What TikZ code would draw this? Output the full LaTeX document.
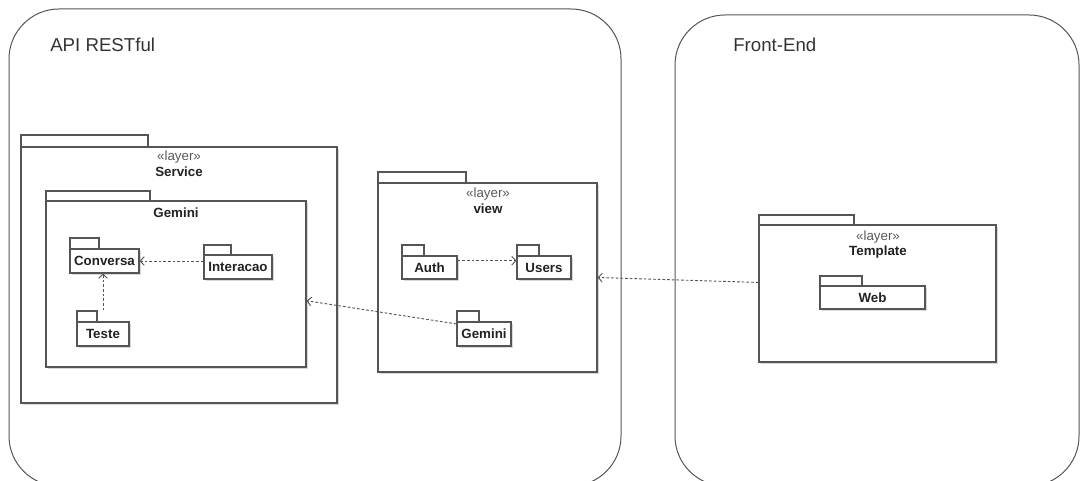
\documentclass[tikz,border=0pt]{standalone}
\usepackage{fontspec}
\setmainfont{Liberation Sans}
\usetikzlibrary{arrows.meta,fit,calc,shadows}
\definecolor{edge}{HTML}{555555}
\definecolor{ink}{HTML}{222222}
\begin{document}
\begin{tikzpicture}[x=0.75pt,y=-0.75pt,
  frame/.style={draw=edge, line width=0.75pt, rounded corners=37.5pt},
  pkgbody/.style={draw=edge, line width=0.9pt, fill=white, inner sep=0pt,
    drop shadow={shadow xshift=1.5pt, shadow yshift=-1.5pt, opacity=0.15, fill=black}},
  pkgtab/.style={draw=edge, line width=0.9pt, fill=white, inner sep=0pt},
  title/.style={font=\fontsize{14}{16}\selectfont, text=black!80, inner sep=0pt, anchor=west},
  stereo/.style={font=\fontsize{10}{12}\selectfont, text=black!65, inner sep=0pt},
  pname/.style={font=\fontsize{10}{12}\selectfont\bfseries, text=ink, inner sep=0pt},
  dep/.style={draw=edge, line width=0.7pt, dash pattern=on 2pt off 1.5pt,
    -{Straight Barb[length=3pt,width=6.5pt]}}
]
\useasboundingbox (0,0) rectangle (1080,481);

% outer regions, open past the lower edge
\begin{scope}
  \clip (0,0) rectangle (1080,481);
  \draw[frame] (9,9) rectangle (621,486);
  \draw[frame] (675,15) rectangle (1079,486);
\end{scope}
\node[title] (apiT) at (50,45) {API RESTful};
\node[title] (feT) at (733,45) {Front-End};

% ---- Service layer ----
\node[pkgbody, fit={(21,147) (337,403)}] (svc) {};
\node[pkgtab, fit={(21,135) (148,147)}] (svcTab) {};
\node[stereo] (svcS) at (179,157) {«layer»};
\node[pname] (svcN) at (179,172) {Service};

\node[pkgbody, fit={(46,201) (306,367)}] (sgem) {};
\node[pkgtab, fit={(46,191) (150,201)}] (sgemTab) {};
\node[pname] (sgemN) at (176,213) {Gemini};

\node[pkgbody, fit={(70,249) (139,273)}] (conv) {};
\node[pkgtab, fit={(70,238) (99,249)}] (convTab) {};
\node[pname] (convN) at (conv.center) {Conversa};

\node[pkgbody, fit={(204,255) (272,279)}] (inter) {};
\node[pkgtab, fit={(204,245) (231,255)}] (interTab) {};
\node[pname] (interN) at (inter.center) {Interacao};

\node[pkgbody, fit={(77,322) (129,346)}] (teste) {};
\node[pkgtab, fit={(77,311) (97,322)}] (testeTab) {};
\node[pname] (testeN) at (teste.center) {Teste};

% ---- view layer ----
\node[pkgbody, fit={(378,183) (597,372)}] (view) {};
\node[pkgtab, fit={(378,172) (466,183)}] (viewTab) {};
\node[stereo] (viewS) at (488,194) {«layer»};
\node[pname] (viewN) at (488,209) {view};

\node[pkgbody, fit={(402,256) (457,279)}] (auth) {};
\node[pkgtab, fit={(402,245) (424,256)}] (authTab) {};
\node[pname] (authN) at (auth.center) {Auth};

\node[pkgbody, fit={(517,256) (571,279)}] (users) {};
\node[pkgtab, fit={(517,245) (539,256)}] (usersTab) {};
\node[pname] (usersN) at (users.center) {Users};

\node[pkgbody, fit={(457,322) (511,346)}] (vgem) {};
\node[pkgtab, fit={(457,311) (479,322)}] (vgemTab) {};
\node[pname] (vgemN) at (vgem.center) {Gemini};

% ---- Template layer ----
\node[pkgbody, fit={(759,225) (996,362)}] (tpl) {};
\node[pkgtab, fit={(759,215) (854,225)}] (tplTab) {};
\node[stereo] (tplS) at (878,237) {«layer»};
\node[pname] (tplN) at (878,252) {Template};

\node[pkgbody, fit={(820,286) (925,309)}] (web) {};
\node[pkgtab, fit={(820,276) (862,286)}] (webTab) {};
\node[pname] (webN) at (web.center) {Web};

% ---- dependencies ----
\draw[dep] (inter.west |- conv.east) -- (conv.east);
\draw[dep] (teste.north |- testeTab.north) -- (teste.north |- conv.south);
\draw[dep] ($(auth.north east)!0.22!(auth.south east)$) coordinate (authOut)
  -- (users.west |- authOut);
\draw[dep] ($(vgem.north west)!0.1!(vgem.south west)$)
  -- ($(sgem.north east)!0.6!(sgem.south east)$);
\draw[dep] ($(tpl.north west)!0.42!(tpl.south west)$) -- (view.east);
\end{tikzpicture}
\end{document}
